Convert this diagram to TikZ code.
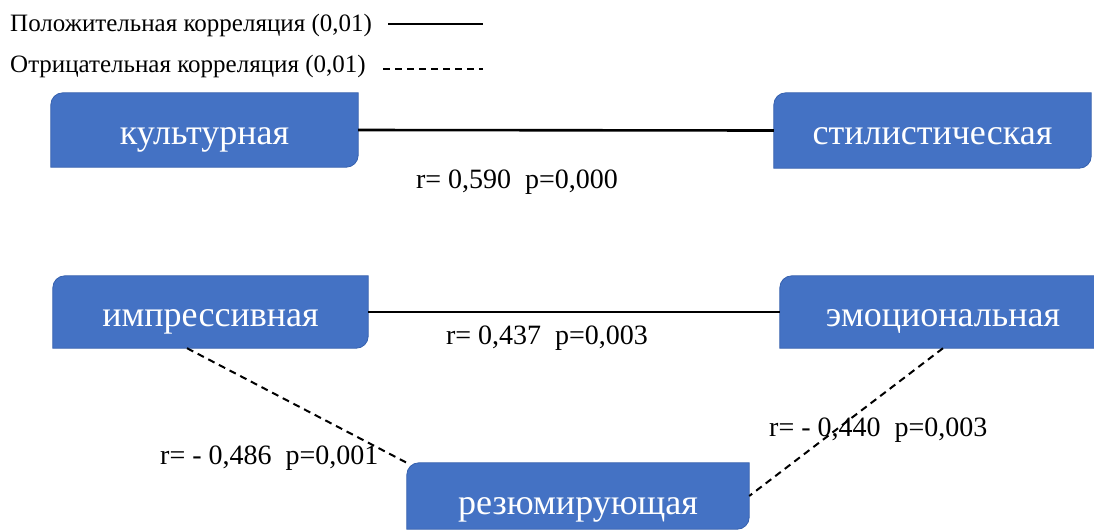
\documentclass[tikz,border=0pt]{standalone}
\usepackage{fontspec}
\setmainfont{Liberation Serif}
\usetikzlibrary{backgrounds}
\definecolor{boxblue}{HTML}{4472C4}
\definecolor{boxedge}{HTML}{3560AE}
\tikzset{
  boxnode/.style={rectangle, inner sep=0pt, text=white, text height=28pt, text depth=0pt,
    font=\rmfamily\fontsize{36}{40}\selectfont},
  boxshape/.style={fill=boxblue, draw=boxedge, line width=0.8pt},
  lbl/.style={inner sep=0pt, font=\rmfamily\fontsize{28}{32}\selectfont},
  legtext/.style={inner sep=0pt, anchor=west, font=\rmfamily\fontsize{25}{29}\selectfont},
  posline/.style={line width=2.6pt},
  negline/.style={line width=2pt, dash pattern=on 7pt off 5pt},
}
\newcommand\cornerbox[1]{\path[boxshape] (#1.south west) -- (#1.west) [rounded corners=12pt] -- (#1.north west) -- (#1.north) [sharp corners] -- (#1.north east) -- (#1.east) [rounded corners=12pt] -- (#1.south east) -- (#1.south) [sharp corners] -- cycle;}
\begin{document}
\begin{tikzpicture}[x=1pt, y=-1pt]
\useasboundingbox (0,0) rectangle (1094,531);
\clip (0,0) rectangle (1094,531);

% legend
\node[legtext] (leg1) at (10,25) {Положительная корреляция (0,01)};
\node[legtext] (leg2) at (10,66) {Отрицательная корреляция (0,01)};
\coordinate (l1a) at (388,24);
\coordinate (l1b) at (483,24);
\coordinate (l2a) at (383,69);
\coordinate (l2b) at (483,69);
\draw[posline] (l1a) -- (l1b);
\draw[negline] (l2a) -- (l2b);

% boxes
\node[boxnode, minimum width=307pt, minimum height=74pt] (kul) at (204.5,130) {культурная};
\node[boxnode, minimum width=317pt, minimum height=75pt] (stil) at (932.5,130.5) {стилистическая};
\node[boxnode, minimum width=315pt, minimum height=72pt] (imp) at (210.5,312) {импрессивная};
\node[boxnode, minimum width=326pt, minimum height=72pt] (emo) at (943,312) {эмоциональная};
\node[boxnode, minimum width=342pt, minimum height=66pt, text height=36pt] (rez) at (578,496) {резюмирующая};

\begin{scope}[on background layer]
\cornerbox{kul}
\cornerbox{stil}
\cornerbox{imp}
\cornerbox{emo}
\cornerbox{rez}
\end{scope}

% connectors
\draw[posline] (kul.east) -- (stil.west);
\draw[posline] (imp.east) -- (emo.west);
\draw[negline] ([xshift=-23.5pt]imp.south) -- (rez.north west);
\draw[negline] (emo.south) -- (rez.east);

% labels
\node[lbl] (r590) at (517,182) {r= 0,590\ \ p=0,000};
\node[lbl] (r437) at (547,338) {r= 0,437\ \ p=0,003};
\node[lbl, anchor=west] (r486) at (160,458) {r= - 0,486\ \ p=0,001};
\node[lbl, anchor=west] (r440) at (769,430) {r= - 0,440\ \ p=0,003};
\end{tikzpicture}
\end{document}
